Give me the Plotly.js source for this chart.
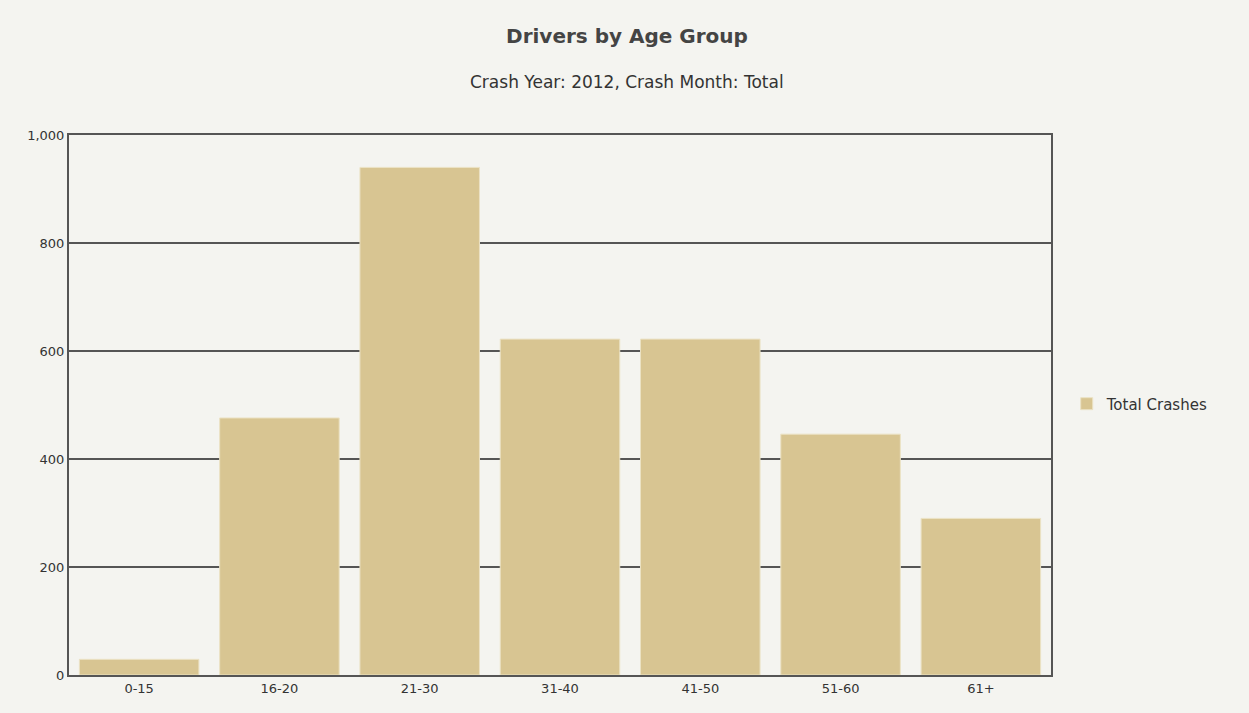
<!DOCTYPE html>
<html>
<head>
<meta charset="utf-8">
<script src="https://cdn.plot.ly/plotly-3.0.1.min.js"></script>
<style>html,body{margin:0;padding:0;background:#f4f4f0;}#chart{width:1249px;height:713px;}</style>
</head>
<body>
<div id="chart"></div>
<script>
var categories = ["0-15", "16-20", "21-30", "31-40", "41-50", "51-60", "61+"];
var totalCrashes = [29, 476, 940, 622, 622, 446, 290];
var yTickVals = [0, 200, 400, 600, 800, 1000];
var yTickText = ["0", "200", "400", "600", "800", "1,000"];
var chartTitle = "Drivers by Age Group";
var chartSubtitle = "Crash Year: 2012, Crash Month: Total";
var seriesName = "Total Crashes";

var trace = {
  type: "bar",
  x: categories,
  y: totalCrashes,
  name: seriesName,
  marker: {color: "#d8c592", line: {color: "#ebe2c4", width: 1}},
  hoverinfo: "x+y"
};

var layout = {
  width: 1249, height: 713,
  paper_bgcolor: "#f4f4f0",
  plot_bgcolor: "#f4f4f0",
  margin: {l: 69, r: 198, t: 135, b: 38},
  font: {family: "DejaVu Sans, Verdana, sans-serif", size: 13, color: "#333333"},
  title: {text: "<b>" + chartTitle + "</b>", x: 0.502, xanchor: "center", y: 0.95, yanchor: "middle",
          font: {family: "DejaVu Sans, Verdana, sans-serif", size: 20, color: "#444444"}},
  annotations: [{
    text: chartSubtitle, xref: "paper", yref: "paper",
    x: 0.568, y: 1.0, xanchor: "center", yanchor: "middle",
    yshift: 53, showarrow: false,
    font: {family: "DejaVu Sans, Verdana, sans-serif", size: 17, color: "#333333"}
  }],
  bargap: 0.148,
  xaxis: {
    type: "category",
    showgrid: false,
    showline: true, linecolor: "#555555", linewidth: 2, mirror: true,
    ticks: "", tickfont: {size: 13, color: "#333333"},
    fixedrange: true
  },
  yaxis: {
    range: [0, 1000],
    tickvals: yTickVals, ticktext: yTickText,
    showgrid: true, gridcolor: "#555555", gridwidth: 1.5,
    showline: true, linecolor: "#555555", linewidth: 2, mirror: true,
    zeroline: false,
    ticks: "", tickfont: {size: 13, color: "#333333"},
    fixedrange: true
  },
  showlegend: true,
  legend: {
    x: 1.016, xanchor: "left", y: 0.502, yanchor: "middle",
    bgcolor: "rgba(0,0,0,0)",
    font: {size: 15, color: "#333333"},
    itemwidth: 30
  }
};

Plotly.newPlot("chart", [trace], layout, {displayModeBar: false});
</script>
</body>
</html>
